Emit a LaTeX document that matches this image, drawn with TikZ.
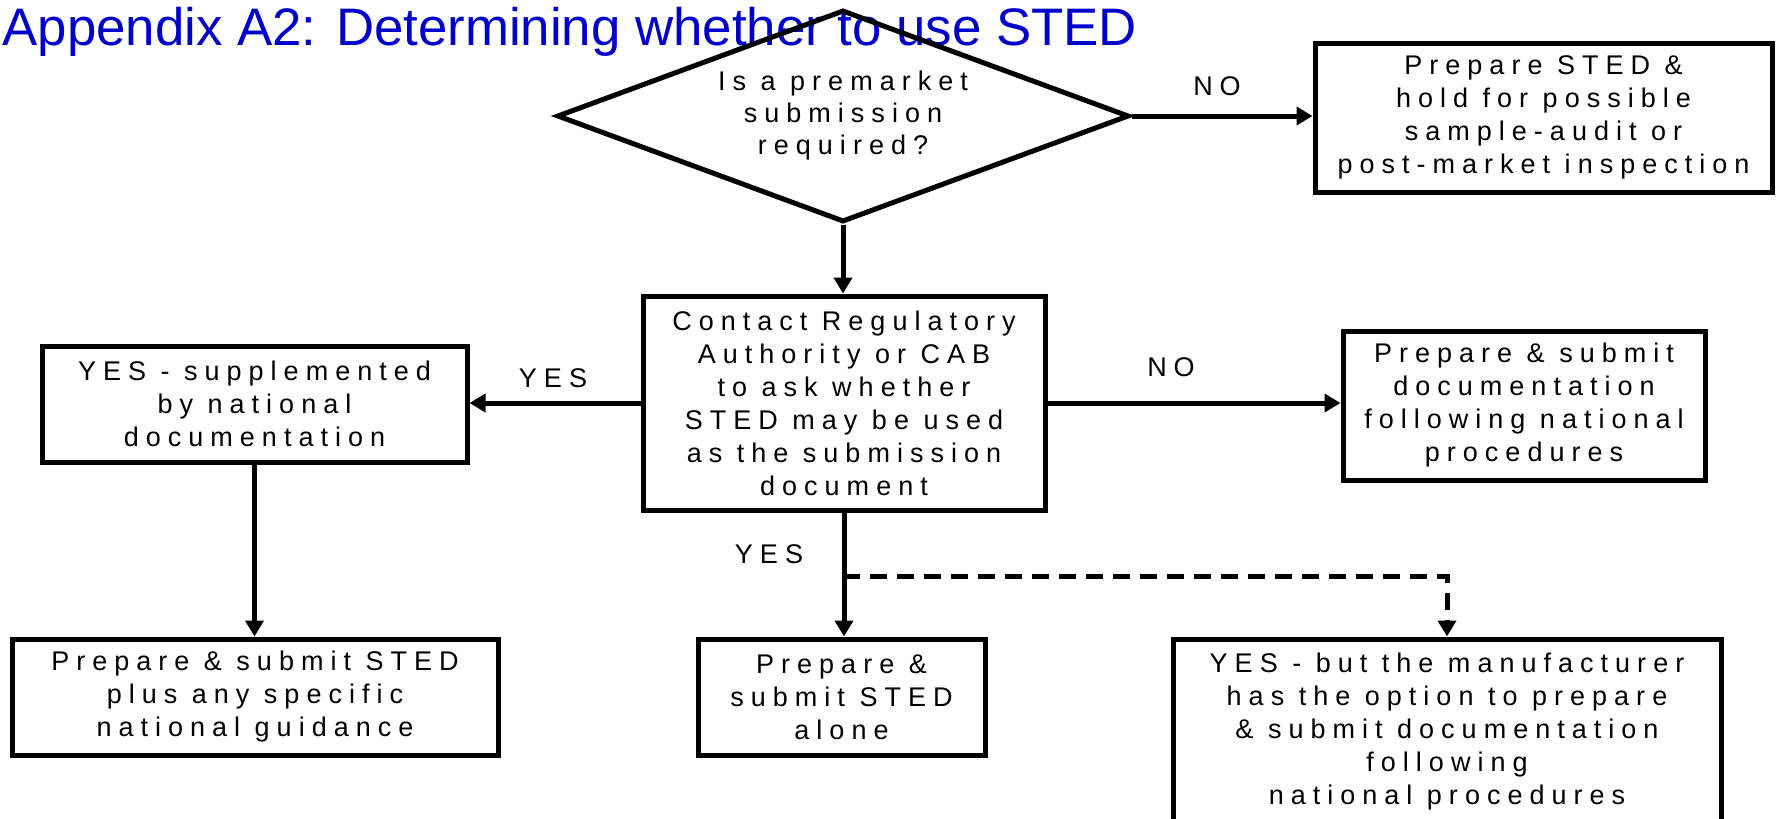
\documentclass[tikz,border=0pt]{standalone}
\usepackage{fontspec}
\setmainfont{Liberation Sans}
\newfontfamily\chartfont[LetterSpace=26]{Liberation Sans}
\usepackage{tikz}
\usetikzlibrary{arrows.meta,shapes.geometric}
\usepackage{xcolor}
\definecolor{titleblue}{RGB}{0,0,204}

\begin{document}
\begin{tikzpicture}[x=0.5pt,y=-0.5pt,>={Triangle[length=8pt,width=9pt]},line width=2.5pt,
  font={\chartfont\fontsize{13.5pt}{16.5pt}\selectfont},
  box/.style={draw,line width=2.5pt,inner sep=0pt,align=center},
  lbl/.style={inner sep=0pt}]
\useasboundingbox (0,0) rectangle (1783,819);
\node[anchor=base west,inner sep=0pt,text=titleblue,font=\fontsize{26.4pt}{30pt}\selectfont] (title) at (0,46) {Appendix A2: Determining whether to use STED};
% question
\node[draw,shape=diamond,aspect=2.7,inner sep=0pt,minimum width=286pt,minimum height=106pt,align=center,font={\chartfont\fontsize{13.5pt}{16pt}\selectfont}] (q) at (843,116) {Is a premarket\\submission\\required?};
\node[box,minimum width=228.5pt,minimum height=74.5pt] (hold) at (1543.5,117.5) {Prepare STED \&\\hold for possible\\sample-audit or\\post-market inspection};
\node[box,minimum width=201pt,minimum height=107pt] (contact) at (844,403) {Contact Regulatory\\Authority or CAB\\to ask whether\\STED may be used\\as the submission\\document};
\node[box,minimum width=212.5pt,minimum height=58pt] (suppl) at (254.5,404) {YES - supplemented\\by national\\documentation};
\node[box,minimum width=181pt,minimum height=74.5pt] (natl) at (1524,405.5) {Prepare \& submit\\documentation\\following national\\procedures};
% bottom row
\node[box,minimum width=243pt,minimum height=58pt] (plus) at (255,697) {Prepare \& submit STED\\plus any specific\\national guidance};
\node[box,minimum width=143.5pt,minimum height=58pt] (alone) at (841.5,697) {Prepare \&\\submit STED\\alone};
\node[box,minimum width=274pt,minimum height=93pt] (option) at (1447,732) {YES - but the manufacturer\\has the option to prepare\\\& submit documentation\\following\\national procedures};
% labels
\node[lbl] (no1) at (1217,86) {NO};
\node[lbl] (yes1) at (553,378) {YES};
\node[lbl] (no2) at (1171,367) {NO};
\node[lbl] (yes2) at (769,554) {YES};
% connectors
\draw[->] (q.south) -- (q.south |- contact.north);
\draw[->] (q.east) -- (q.east -| hold.west);
\draw[->] (contact.west) -- (contact.west -| suppl.east);
\draw[->] (contact.east) -- (contact.east -| natl.west);
\draw[->] (suppl.south) -- (suppl.south |- plus.north);
\draw[->] (contact.south) -- (contact.south |- alone.north);
\coordinate (split) at (843,576);
\draw[->,dash pattern=on 8.5pt off 5pt] (split) -| (option.north);
\end{tikzpicture}
\end{document}
